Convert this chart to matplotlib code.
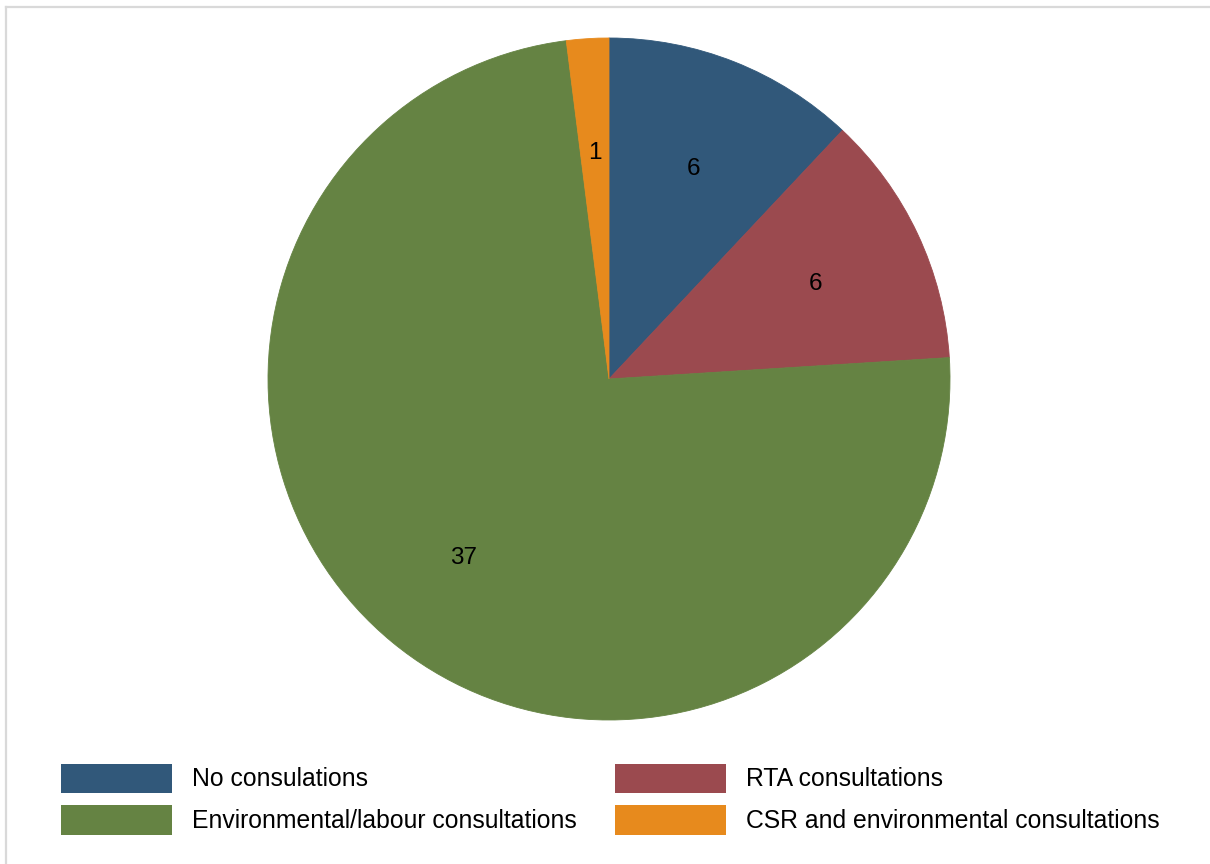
import matplotlib
matplotlib.use("Agg")
import matplotlib.pyplot as plt
from matplotlib.patches import Patch
from matplotlib.lines import Line2D

categories = ["No consulations", "RTA consultations",
              "Environmental/labour consultations", "CSR and environmental consultations"]
values = [6, 6, 37, 1]
colors = ["#31587a", "#9b4a4f", "#658343", "#e78a1d"]

plt.rcParams['font.family'] = ['Liberation Sans', 'DejaVu Sans']

W, H = 1210, 864
fig = plt.figure(figsize=(W / 100, H / 100), dpi=100)
fig.patch.set_facecolor("white")

# frame (top and left visible)
fig.add_artist(Line2D([6 / W, 6 / W], [0, 1 - 6.5 / H], transform=fig.transFigure,
                      color="#d9d9d9", lw=1.6))
fig.add_artist(Line2D([6 / W, 1], [1 - 6.5 / H, 1 - 6.5 / H], transform=fig.transFigure,
                      color="#d9d9d9", lw=1.6))

cx, cy, r = 609, 379, 341
ax = fig.add_axes([(cx - r) / W, 1 - (cy + r) / H, 2 * r / W, 2 * r / H])
wedges, texts = ax.pie(values, colors=colors, startangle=90, counterclock=False,
                       labels=[str(v) for v in values], labeldistance=0.67,
                       radius=1, wedgeprops=dict(linewidth=0.6, edgecolor="none"),
                       textprops=dict(fontsize=17.5, color="black"))
for t in texts:
    t.set_ha("center")
    t.set_va("center_baseline")
for w, c in zip(wedges, colors):
    w.set_edgecolor(c)
ax.set_xlim(-1, 1)
ax.set_ylim(-1, 1)
ax.set_aspect("equal")
ax.axis("off")

# legend: rows: No consul / RTA ; Environmental / CSR
order = [0, 2, 1, 3]
handles = [Patch(facecolor=colors[i], edgecolor="none") for i in order]
labels = [categories[i] for i in order]
fig.legend(handles, labels, ncol=2, loc="upper left",
           bbox_to_anchor=(61 / W, 1 - 763.5 / H), frameon=False,
           fontsize=17.8, handlelength=4.5, handleheight=1.45,
           handletextpad=0.81, columnspacing=1.54, labelspacing=0.5,
           borderpad=0, borderaxespad=0)

fig.savefig("out.png", dpi=100, facecolor="white")
